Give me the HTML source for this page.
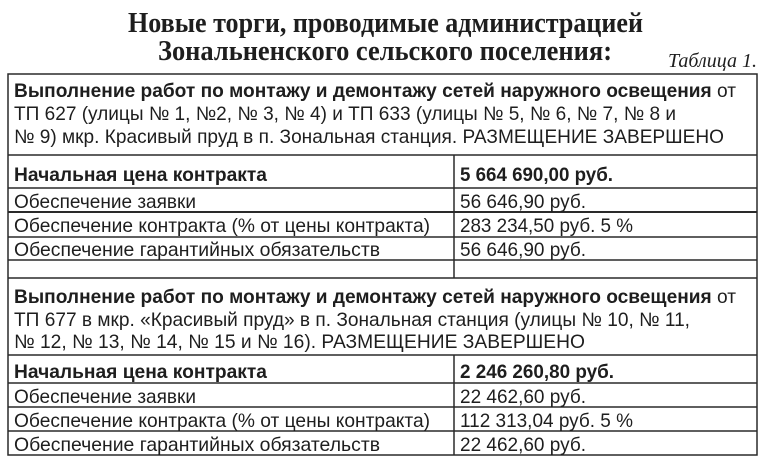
<!DOCTYPE html>
<html><head><meta charset="utf-8"><style>
html,body{margin:0;padding:0;background:#fff;width:768px;height:462px;overflow:hidden}
svg{display:block}
text{font-family:"Liberation Sans",sans-serif;font-size:19.5px;fill:#1e1e1e}
.t{font-family:"Liberation Serif",serif;font-weight:bold;font-size:28px}
.b{font-weight:bold}
</style></head><body>
<svg width="768" height="462" viewBox="0 0 768 462" xmlns="http://www.w3.org/2000/svg">
<text class="t" x="128" y="32" textLength="515" lengthAdjust="spacingAndGlyphs">Новые торги, проводимые администрацией</text>
<text class="t" x="158" y="60" textLength="454" lengthAdjust="spacingAndGlyphs">Зональненского сельского поселения:</text>
<text x="668" y="67" textLength="89" lengthAdjust="spacingAndGlyphs" style="font-family:'Liberation Serif',serif;font-style:italic;font-size:20px">Таблица 1.</text>
<g stroke="#2a2a2a" stroke-width="1.5" fill="none">
<rect x="8" y="74" width="749" height="381"/>
<line x1="8" y1="155" x2="757" y2="155"/>
<line x1="8" y1="188" x2="757" y2="188"/>
<line x1="8" y1="212" x2="757" y2="212" stroke-width="2"/>
<line x1="8" y1="237" x2="757" y2="237"/>
<line x1="8" y1="260" x2="757" y2="260"/>
<line x1="8" y1="278" x2="757" y2="278"/>
<line x1="8" y1="355" x2="757" y2="355"/>
<line x1="8" y1="383" x2="757" y2="383"/>
<line x1="8" y1="407" x2="757" y2="407"/>
<line x1="8" y1="431" x2="757" y2="431"/>
<line x1="454" y1="155" x2="454" y2="278"/>
<line x1="454" y1="355" x2="454" y2="455"/>
</g>
<text x="14" y="97" textLength="722" lengthAdjust="spacingAndGlyphs"><tspan class="b">Выполнение работ по монтажу и демонтажу сетей наружного освещения</tspan> от</text>
<text x="14" y="120" textLength="662" lengthAdjust="spacingAndGlyphs">ТП 627 (улицы № 1, №2, № 3, № 4) и ТП 633 (улицы № 5, № 6, № 7, № 8 и</text>
<text x="14" y="143" textLength="710" lengthAdjust="spacingAndGlyphs">№ 9) мкр. Красивый пруд в п. Зональная станция. РАЗМЕЩЕНИЕ ЗАВЕРШЕНО</text>
<text class="b" x="14" y="181" textLength="253" lengthAdjust="spacingAndGlyphs">Начальная цена контракта</text>
<text class="b" x="460" y="181" textLength="153" lengthAdjust="spacingAndGlyphs">5 664 690,00 руб.</text>
<text x="14" y="208" textLength="182" lengthAdjust="spacingAndGlyphs">Обеспечение заявки</text>
<text x="460" y="208" textLength="126" lengthAdjust="spacingAndGlyphs">56 646,90 руб.</text>
<text x="14" y="232" textLength="416" lengthAdjust="spacingAndGlyphs">Обеспечение контракта (% от цены контракта)</text>
<text x="460" y="232" textLength="173" lengthAdjust="spacingAndGlyphs">283 234,50 руб. 5 %</text>
<text x="14" y="256" textLength="366" lengthAdjust="spacingAndGlyphs">Обеспечение гарантийных обязательств</text>
<text x="460" y="256" textLength="126" lengthAdjust="spacingAndGlyphs">56 646,90 руб.</text>
<text x="14" y="303" textLength="722" lengthAdjust="spacingAndGlyphs"><tspan class="b">Выполнение работ по монтажу и демонтажу сетей наружного освещения</tspan> от</text>
<text x="14" y="326" textLength="676" lengthAdjust="spacingAndGlyphs">ТП 677 в мкр. «Красивый пруд» в п. Зональная станция (улицы № 10, № 11,</text>
<text x="14" y="348" textLength="571" lengthAdjust="spacingAndGlyphs">№ 12, № 13, № 14, № 15 и № 16).  РАЗМЕЩЕНИЕ ЗАВЕРШЕНО</text>
<text class="b" x="14" y="378" textLength="253" lengthAdjust="spacingAndGlyphs">Начальная цена контракта</text>
<text class="b" x="460" y="378" textLength="154" lengthAdjust="spacingAndGlyphs">2 246 260,80 руб.</text>
<text x="14" y="403" textLength="182" lengthAdjust="spacingAndGlyphs">Обеспечение заявки</text>
<text x="460" y="403" textLength="126" lengthAdjust="spacingAndGlyphs">22 462,60 руб.</text>
<text x="14" y="427" textLength="416" lengthAdjust="spacingAndGlyphs">Обеспечение контракта (% от цены контракта)</text>
<text x="460" y="427" textLength="173" lengthAdjust="spacingAndGlyphs">112 313,04 руб. 5 %</text>
<text x="14" y="451" textLength="366" lengthAdjust="spacingAndGlyphs">Обеспечение гарантийных обязательств</text>
<text x="460" y="451" textLength="126" lengthAdjust="spacingAndGlyphs">22 462,60 руб.</text>
</svg>
</body></html>
